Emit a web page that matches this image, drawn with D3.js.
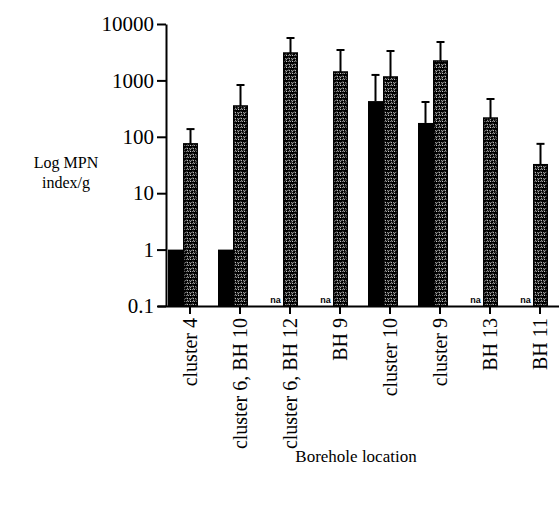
<!DOCTYPE html>
<html>
<head>
<meta charset="utf-8">
<script src="https://cdn.jsdelivr.net/npm/d3@7"></script>
<style>
  body { margin: 0; background: #fff; }
  svg { display: block; }
  text { font-family: "Liberation Serif", "Times New Roman", serif; fill: #000; }
</style>
</head>
<body>
<div id="chart"></div>
<script>
'use strict';

const categories = ['cluster 4', 'cluster 6, BH 10', 'cluster 6, BH 12', 'BH 9',
    'cluster 10', 'cluster 9', 'BH 13', 'BH 11'];
// solid black bars (null = na)
const solidValues = [1, 1, null, null, 430, 176, null, null];
const solidErrors = [null, null, null, null, 1250, 414, null, null];
// stippled bars
const stippledValues = [75, 352, 3060, 1410, 1150, 2210, 215, 32];
const stippledErrors = [137, 828, 5650, 3460, 3320, 4800, 468, 75];
const yTicks = [0.1, 1, 10, 100, 1000, 10000];
const yTickLabels = ['0.1', '1', '10', '100', '1000', '10000'];

const width = 559, height = 518;

const svg = d3.select('#chart')
    .append('svg')
    .attr('width', width)
    .attr('height', height);

// stipple pattern: dark ground with white squiggles
const pat = svg.append('defs')
    .append('pattern')
    .attr('id', 'stipple')
    .attr('patternUnits', 'userSpaceOnUse')
    .attr('width', 6)
    .attr('height', 6);
pat.append('rect').attr('width', 6).attr('height', 6).attr('fill', '#000');
pat.append('path')
    .attr('d', 'M0.5,1.5 q1,-1.4 2.2,0 M3.3,4.6 q1,1.4 2.2,0 M4,0.6 l0.9,1.3 M0.9,3.7 l0.6,1.5')
    .attr('fill', 'none')
    .attr('stroke', '#fff')
    .attr('stroke-width', 1);

const x = d3.scaleBand()
    .domain(categories)
    .range([165, 565])
    .padding(0);

const sub = d3.scaleBand()
    .domain(['solid', 'stippled'])
    .range([-22, 8]);

const y = d3.scaleLog()
    .domain([0.1, 10000])
    .range([306, 24]);

const rows = categories.map((c, i) => ({
    cat: c,
    solid: solidValues[i], solidErr: solidErrors[i],
    stip: stippledValues[i], stipErr: stippledErrors[i]
}));

const cx = d => x(d.cat) + x.bandwidth() / 2;

// solid bars
svg.append('g')
    .selectAll('rect')
    .data(rows.filter(d => d.solid != null))
    .join('rect')
    .attr('x', d => cx(d) + sub('solid'))
    .attr('y', d => y(d.solid))
    .attr('width', sub.bandwidth())
    .attr('height', d => y(0.1) - y(d.solid))
    .attr('fill', '#000');

// stippled bars
svg.append('g')
    .selectAll('rect')
    .data(rows)
    .join('rect')
    .attr('x', d => cx(d) + sub('stippled') + 0.75)
    .attr('y', d => y(d.stip))
    .attr('width', sub.bandwidth() - 1.5)
    .attr('height', d => y(0.1) - y(d.stip))
    .attr('fill', 'url(#stipple)')
    .attr('stroke', '#000')
    .attr('stroke-width', 1.5);

// error bars
const errs = [];
rows.forEach(d => {
    if (d.solidErr != null) errs.push({x: cx(d) + sub('solid') + sub.bandwidth() / 2, v: d.solid, e: d.solidErr});
    errs.push({x: cx(d) + sub('stippled') + sub.bandwidth() / 2, v: d.stip, e: d.stipErr});
});
const eg = svg.append('g').attr('stroke', '#000').attr('stroke-width', 2);
eg.selectAll('line.v')
    .data(errs)
    .join('line')
    .attr('class', 'v')
    .attr('x1', d => d.x).attr('x2', d => d.x)
    .attr('y1', d => y(d.v)).attr('y2', d => y(d.e));
eg.selectAll('line.c')
    .data(errs)
    .join('line')
    .attr('class', 'c')
    .attr('x1', d => d.x - 4).attr('x2', d => d.x + 4)
    .attr('y1', d => y(d.e)).attr('y2', d => y(d.e));

// na labels
svg.append('g')
    .selectAll('text')
    .data(rows.filter(d => d.solid == null))
    .join('text')
    .attr('x', d => cx(d) + sub('solid') + sub.bandwidth() / 2)
    .attr('y', y(0.1) - 3)
    .attr('text-anchor', 'middle')
    .style('font-family', '"Liberation Sans Narrow", "Liberation Sans", sans-serif')
    .style('font-weight', 'bold')
    .style('font-size', '9px')
    .text('na');

// axes
const yAxis = svg.append('g')
    .attr('transform', 'translate(166,0)')
    .call(d3.axisLeft(y).tickValues(yTicks).tickFormat((d, i) => yTickLabels[i]).tickSize(9).tickSizeOuter(0).tickPadding(3));
yAxis.selectAll('text').style('font-size', '21px');

const xAxis = svg.append('g')
    .attr('transform', 'translate(0,306)')
    .call(d3.axisBottom(x).tickSize(8).tickSizeOuter(0));
xAxis.selectAll('.tick').attr('transform', d => `translate(${x(d) + x.bandwidth() / 2},0)`);
xAxis.select('.domain').attr('d', 'M158,0.5H565');
xAxis.selectAll('text')
    .attr('transform', 'rotate(-90)')
    .attr('x', -12)
    .attr('y', 0)
    .attr('dy', '0.33em')
    .style('text-anchor', 'end')
    .style('font-size', '20px');

svg.selectAll('.domain, .tick line').attr('stroke', '#000').attr('stroke-width', 2);

// axis titles
const yt = svg.append('text')
    .attr('text-anchor', 'middle')
    .style('font-size', '16px');
yt.append('tspan').attr('x', 66).attr('y', 168).text('Log MPN');
yt.append('tspan').attr('x', 66).attr('y', 188).text('index/g');

svg.append('text')
    .attr('x', 356)
    .attr('y', 462)
    .attr('text-anchor', 'middle')
    .style('font-size', '17px')
    .text('Borehole location');
</script>
</body>
</html>
